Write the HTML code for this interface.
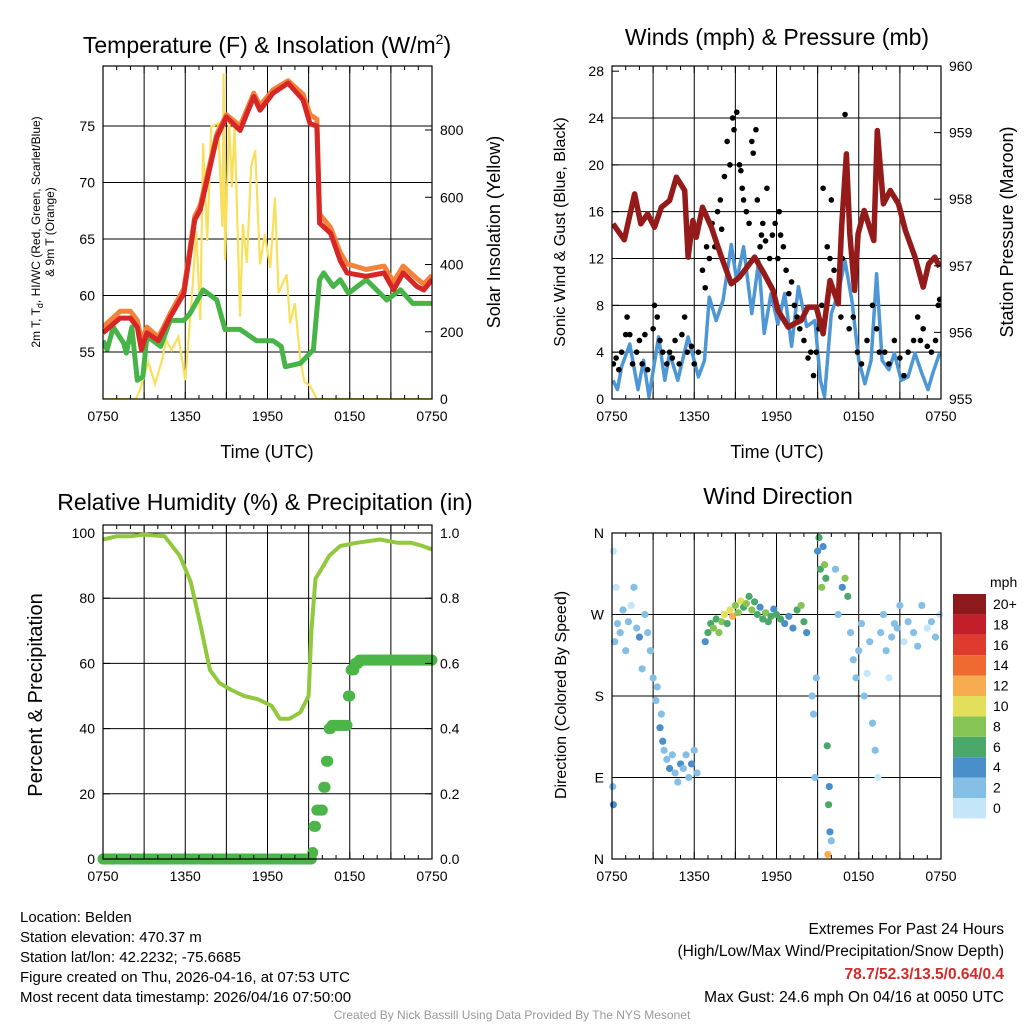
<!DOCTYPE html>
<html><head><meta charset="utf-8"><style>
body{margin:0;background:#fff;font-family:"Liberation Sans",sans-serif}
svg text{font-family:"Liberation Sans",sans-serif;fill:#000}
</style></head><body>
<svg id="s" width="1024" height="1024" xmlns="http://www.w3.org/2000/svg"></svg>
<script>
// ---- data (hours since 0750 UTC) ----
const timeTickLabels=["0750","1350","1950","0150","0750"];
const tempH=[0,1.24,2,2.5,2.8,3.2,4.04,4.9,5.9,6.7,7.1,8.3,9.0,10,11,11.45,12.4,13.5,14.6,15.1,15.6,15.8,16.6,17.3,17.8,19.2,20.5,21.2,21.9,22.9,23.4,24];
const tempRed=[56.7,58,58,57.2,55.2,56.7,56,58.1,60.2,66.7,67.6,74,75.8,74.6,77.6,76.4,77.9,78.8,77.3,75.2,75,66.4,65.5,63.1,62,61.7,62,60.5,62,60.8,60.5,61.4];
const tempOrange=[57.2,58.6,58.6,57.8,56,57.2,56.3,58.4,60.6,67,68,74.3,76,75,77.9,76.8,78.2,79,77.8,76,75.6,67.2,66,63.8,62.8,62.3,62.6,61.2,62.6,61.5,61,61.8];
const dewH=[0,0.3,0.75,1.5,1.7,2.1,2.5,2.9,3.2,4.2,4.9,5.9,6.35,7.3,8.3,8.9,10,11.2,12.4,13,13.3,14.4,15.35,15.8,16.1,16.8,17.3,17.9,19.2,20.7,21.7,22.6,24];
const dewGreen=[56,55.2,57.2,55.8,54.9,57.2,52.5,52.8,56.4,55.5,57.8,57.8,58.4,60.5,59.6,57,57,56,56,55.5,53.7,54,55.2,61.4,62,60.8,61.4,60.2,61.4,59.6,60.5,59.3,59.3];
const insH=[0,2.4,2.7,3.3,3.8,4.3,4.6,5,5.5,6,6.5,6.8,7.1,7.3,7.6,7.9,8.4,8.7,8.8,8.9,9.2,9.4,9.6,10,10.2,10.5,10.8,11.1,11.45,11.8,12.2,12.55,12.8,13.4,13.65,14,14.4,14.7,15.1,15.6,24];
const insVal=[0,0,27,110,45,115,175,145,185,56,314,500,235,760,470,810,820,512,968,413,830,630,810,245,520,405,690,740,400,490,390,600,315,370,225,285,115,50,40,0,0];
const windH=[0.07,0.4,0.7,1.3,1.9,2.3,2.7,3.4,3.85,4.2,4.8,5.55,6.3,6.75,7.1,7.6,8.1,8.7,9.1,9.6,10.2,10.7,11.1,11.6,12.1,12.6,13.1,13.6,14.2,14.8,15.2,15.5,16,16.5,17,17.5,18,18.45,18.9,19.3,19.7,20.2,20.6,21.1,21.6,22.1,22.6,23.05,23.4,23.9];
const windVal=[1.6,0.8,2.75,4.7,0.8,3.3,0.2,5.3,1.6,3.9,1.6,5.3,1.9,3.3,8.7,6.7,8.4,13.2,10.1,13,7.3,11.8,5.6,9,6.4,9,4.5,9.6,6.2,6.7,1.6,0.2,7.3,9,11.8,8.4,3.3,1.3,3.3,10.7,3.3,2.5,3.9,1.6,1.9,3.9,2.2,0.8,2.2,3.9];
const gustPts=[[0.1,3],[0.3,3.5],[0.5,2.5],[0.7,4],[1,5.5],[1.1,7],[1.3,5.5],[1.5,3],[1.8,4],[2,5],[2.2,3],[2.4,5.5],[2.6,2.5],[3,6],[3.1,8],[3.3,7],[3.5,5],[3.7,4],[4,3],[4.2,4],[4.4,3.5],[4.6,5],[4.9,3],[5.1,5.5],[5.3,7],[5.5,4],[5.8,4.5],[6,3],[6.3,4],[6.6,11],[6.8,9.5],[6.9,13],[7.1,12],[7.3,15],[7.5,13],[7.7,16],[7.9,17],[8,14.5],[8.2,19],[8.4,22],[8.6,20],[8.8,24],[8.9,23],[9.1,24.5],[9.3,20],[9.4,19.5],[9.6,17],[9.8,16],[10,15],[10.2,22],[10.3,21],[10.5,23],[10.6,17],[10.8,13],[11,15],[11.2,13.5],[11.3,18],[11.5,12],[11.7,14],[11.9,15],[12.1,12],[12.3,14],[12.5,13],[12.7,11],[12.9,9],[13.1,10],[13.3,8],[13.5,7],[13.7,6],[14,5],[14.3,3.5],[14.5,4],[14.7,2],[14.9,4],[15.1,6],[15.3,8],[15.4,18],[15.7,13],[15.9,12],[16,17],[16.2,11],[16.5,9],[16.7,7],[16.8,12],[17,24.3],[17.3,6],[17.6,7],[17.9,4],[18.2,3],[18.6,5],[19,8],[19.3,6],[19.5,4],[19.9,4],[20.2,3],[20.6,5],[21,3.5],[21.3,2],[21.6,4],[22,5],[22.3,7],[22.5,5],[22.7,6],[23,4.5],[23.3,4],[23.6,5],[23.8,8],[23.9,8.5],[9.5,18],[10.9,14],[12.2,16]];
const presH=[0.07,0.9,1.65,2.1,2.6,3.1,3.6,4.2,4.7,5.3,5.55,5.9,6.15,6.6,7.25,7.9,8.7,9.3,10.4,11.1,11.75,12.1,12.85,13.3,13.8,14.3,14.9,15.4,15.9,16.5,16.75,17.1,17.35,17.7,17.95,18.4,19.1,19.35,19.8,20.3,20.9,21.4,22.1,22.7,23.1,23.55,23.9];
const presVal=[957.63,957.39,958.08,957.63,957.78,957.58,957.88,957.98,958.33,958.13,957.13,957.68,957.43,957.88,957.58,957.18,956.73,956.83,957.13,956.88,956.63,956.33,956.08,956.13,956.18,956.38,956.38,955.98,956.78,956.43,957.58,958.68,957.48,956.63,957.48,957.83,957.38,959.03,957.93,958.13,957.93,957.53,957.13,956.68,957.03,957.13,956.98];
const rhH=[0,1,2,3,4.5,5.6,6.4,7.1,7.8,8.5,9.3,10.3,11.3,12.3,12.9,13.6,14.4,15,15.2,15.5,15.8,16.5,17.3,18.5,20.2,21.5,22.5,23.3,24];
const rhVal=[98,99,99,99.5,99,93,85,72,58,54,52,50,49,47,43,43,45,50,70,86,88,93,96,97,98,97,97,96,95];
const precipH=[0,15.2,15.35,15.5,16.0,16.2,16.4,16.6,17.8,18.0,18.3,18.6,24];
const precipVal=[0,0.02,0.1,0.15,0.22,0.3,0.4,0.41,0.5,0.58,0.6,0.61,0.61];
const dirPts=[[0.1,340,1],[0.2,240,2],[0.3,300,1],[0.4,260,3],[0.6,250,2],[0.8,275,2],[1,230,3],[1.2,262,2],[1.4,280,1],[1.6,300,2],[1.8,255,3],[2,245,4],[2.2,210,3],[2.4,270,2],[2.6,250,3],[2.8,230,2],[3,200,3],[3.2,175,2],[3.3,190,3],[3.5,145,4],[3.6,160,3],[3.7,130,4],[3.8,120,3],[4,110,2],[4.2,100,4],[4.4,115,3],[4.6,95,2],[4.8,85,3],[5,105,4],[5.2,100,3],[5.4,115,2],[5.6,90,3],[5.8,105,4],[6,120,3],[6.2,95,2],[0.05,80,3],[0.1,60,4],[6.8,240,5],[7,250,6],[7.2,260,7],[7.4,255,8],[7.6,265,6],[7.8,250,8],[8,262,9],[8.2,270,10],[8.4,260,7],[8.6,275,11],[8.8,268,12],[9,280,9],[9.2,272,8],[9.4,285,10],[9.6,278,7],[9.8,282,9],[10,290,7],[10.2,275,8],[10.4,284,6],[10.6,270,7],[10.8,278,5],[11,265,6],[11.2,272,8],[11.4,262,7],[11.6,268,6],[11.8,276,5],[12,270,7],[12.3,265,6],[12.6,260,5],[12.9,268,4],[13.2,255,5],[13.5,275,6],[13.8,280,8],[14,262,7],[14.2,250,5],[14.6,180,3],[14.7,160,2],[14.8,90,3],[14.9,200,2],[15,340,5],[15.1,355,6],[15.2,320,7],[15.3,300,8],[15.4,345,5],[15.5,325,9],[15.6,310,7],[15.7,125,6],[15.8,60,7],[15.9,30,5],[15.75,5,12],[15.85,80,4],[16,20,3],[16.3,320,3],[16.5,270,2],[16.8,300,4],[17,310,8],[17.2,290,6],[17.4,250,3],[17.6,220,2],[17.8,200,3],[18,230,2],[18.2,260,3],[18.4,180,2],[18.6,205,1],[18.8,240,2],[19,150,3],[19.2,120,2],[19.4,90,1],[19.6,250,3],[19.8,270,2],[20,230,2],[20.2,200,1],[20.4,245,3],[20.6,260,2],[20.8,255,3],[21,280,2],[21.3,240,1],[21.6,262,3],[22,250,2],[22.3,235,3],[22.6,280,2],[23,255,1],[23.3,262,3],[23.6,245,2],[23.9,270,1]];
const speedBinLabels=["0","2","4","6","8","10","12","14","16","18","20+"];
const speedColors=["#c4e6f8","#86bfe6","#4a8fca","#4aa86a","#86c553","#e3df5a","#f7ad4f","#ee6a30","#df3a2e","#c21f2a","#8c1a1a"];

const S=document.getElementById('s');const NS="http://www.w3.org/2000/svg";
function el(tag,attrs,parent,txt){const e=document.createElementNS(NS,tag);for(const k in attrs)e.setAttribute(k,attrs[k]);if(txt!==undefined)e.textContent=txt;(parent||S).appendChild(e);return e;}
function lin(d0,d1,r0,r1){return v=>r0+(v-d0)*(r1-r0)/(d1-d0);}
function path(xs,ys,sx,sy){return xs.map((h,i)=>(i?'L':'M')+sx(h).toFixed(1)+','+sy(ys[i]).toFixed(1)).join('');}

function frame(g,x0,y0,x1,y1,hGrid,ly){
  const sx=lin(0,24,x0,x1);
  for(let i=1;i<8;i++){const l=el('line',{x1:sx(i*3),x2:sx(i*3),y1:y0,y2:y1,stroke:'#000','stroke-width':1},g);}
  hGrid.forEach(v=>{const y=ly(v);const l=el('line',{x1:x0,x2:x1,y1:y,y2:y,stroke:'#000','stroke-width':1},g);});
}
function axes(g,x0,y0,x1,y1,leftTicks,ly,leftFmt,rightTicks,ry,rightFmt){
  const sx=lin(0,24,x0,x1);
  const r=el('rect',{x:x0,y:y0,width:x1-x0,height:y1-y0,fill:'none',stroke:'#000','stroke-width':1.2},g);
  const xa=el('g',{},g);
  for(let i=0;i<=24;i++){const x=sx(i);const L=i%3==0?7:4;el('line',{x1:x,x2:x,y1:y1,y2:y1-L,stroke:'#000'},xa);el('line',{x1:x,x2:x,y1:y0,y2:y0+L,stroke:'#000'},xa);}
  timeTickLabels.forEach((t,i)=>{const tx=el('text',{x:sx(i*6),y:y1+22,'text-anchor':'middle','font-size':14},xa,t);});
  const la=el('g',{},g);
  leftTicks.forEach(v=>{const y=ly(v);el('line',{x1:x0,x2:x0+7,y1:y,y2:y,stroke:'#000'},la);const t=el('text',{x:x0-8,y:y+5,'text-anchor':'end','font-size':14},la,leftFmt(v));});
  const ra=el('g',{},g);
  rightTicks.forEach(v=>{const y=ry(v);el('line',{x1:x1,x2:x1-7,y1:y,y2:y,stroke:'#000'},ra);if(rightFmt){const t=el('text',{x:x1+8,y:y+5,'font-size':14},ra,rightFmt(v));}});
}
function title(g,x,y,txt,name){const t=el('text',{x:x,y:y,'text-anchor':'middle','font-size':23},g,txt);return t;}
function vlabel(g,x,y,txt,size,name){const t=el('text',{x:0,y:0,'text-anchor':'middle','font-size':size,transform:`translate(${x},${y}) rotate(-90)`},g,txt);return t;}
function clip(id,x0,y0,x1,y1){const cp=el('clipPath',{id:id});el('rect',{x:x0,y:y0,width:x1-x0,height:y1-y0},cp);}

// ---- Panel 1 ----
(function(){
const g=el('g',{});
const X0=103,Y0=66,X1=432,Y1=399;const sx=lin(0,24,X0,X1);
const ly=lin(55,75,352,126);const ry=lin(0,800,399,130);
frame(g,X0,Y0,X1,Y1,[55,60,65,70,75],ly);
clip('c1',X0,Y0,X1,Y1);
const c=el('g',{'clip-path':'url(#c1)'},g);
let p=el('path',{d:path(insH,insVal,sx,ry),fill:'none',stroke:'#f8e05c','stroke-width':2.2},c);
p=el('path',{d:path(dewH,dewGreen,sx,ly),fill:'none',stroke:'#47b447','stroke-width':5,'stroke-linejoin':'round'},c);
p=el('path',{d:path(tempH,tempOrange,sx,ly),fill:'none',stroke:'#f5823a','stroke-width':5,'stroke-linejoin':'round'},c);
p=el('path',{d:path(tempH,tempRed,sx,ly),fill:'none',stroke:'#d62626','stroke-width':5,'stroke-linejoin':'round'},c);
axes(g,X0,Y0,X1,Y1,[55,60,65,70,75],ly,v=>v,[0,200,400,600,800],ry,v=>v);
const t=title(g,267,53,'','temperature-title');t.innerHTML='Temperature (F) &amp; Insolation (W/m<tspan font-size="14" dy="-9">2</tspan><tspan dy="9">)</tspan>';
let xl=el('text',{x:267,y:458,'text-anchor':'middle','font-size':18},g,'Time (UTC)');
const l1=vlabel(g,40,232,'',12,'left-axis-title');l1.innerHTML='2m T, T<tspan font-size="9" dy="3">d</tspan><tspan dy="-3">, HI/WC (Red, Green, Scarlet/Blue)</tspan>';
vlabel(g,54,232,'& 9m T (Orange)',12,'left-axis-title-line2');
vlabel(g,500,232,'Solar Insolation (Yellow)',18,'right-axis-title');
})();

// ---- Panel 2 ----
(function(){
const g=el('g',{});
const X0=612,Y0=66,X1=941,Y1=399;const sx=lin(0,24,X0,X1);
const ly=lin(0,24,399,118);const ry=lin(955,960,399,66);
frame(g,X0,Y0,X1,Y1,[4,8,12,16,20,24],ly);
clip('c2',X0,Y0,X1,Y1);
const c=el('g',{'clip-path':'url(#c2)'},g);
let p=el('path',{d:path(windH,windVal,sx,ly),fill:'none',stroke:'#4d97d6','stroke-width':3.5,'stroke-linejoin':'round'},c);
gustPts.forEach(d=>{const ci=el('circle',{cx:sx(d[0]),cy:ly(d[1]),r:2.8,fill:'#000'},c);});
p=el('path',{d:path(presH,presVal,sx,ry),fill:'none',stroke:'#951a1a','stroke-width':5.5,'stroke-linejoin':'round'},c);
axes(g,X0,Y0,X1,Y1,[0,4,8,12,16,20,24,28],ly,v=>v,[955,956,957,958,959,960],ry,v=>v);
title(g,777,45,'Winds (mph) & Pressure (mb)','winds-title');
let xl=el('text',{x:777,y:458,'text-anchor':'middle','font-size':18},g,'Time (UTC)');
vlabel(g,565,232,'Sonic Wind & Gust (Blue, Black)',16,'left-axis-title');
vlabel(g,1013,232,'Station Pressure (Maroon)',18,'right-axis-title');
})();

// ---- Panel 3 ----
(function(){
const g=el('g',{});
const X0=103,Y0=525,X1=432,Y1=859;const sx=lin(0,24,X0,X1);
const ly=lin(0,100,859,533);const ry=lin(0,1,859,533);
frame(g,X0,Y0,X1,Y1,[20,40,60,80,100],ly);
let p=el('path',{d:path(rhH,rhVal,sx,ly),fill:'none',stroke:'#92c83e','stroke-width':4,'stroke-linejoin':'round'},g);
for(let h=0;h<=24.001;h+=0.1){let v=0;for(let i=0;i<precipH.length;i++)if(precipH[i]<=h)v=precipVal[i];const ci=el('circle',{cx:sx(h),cy:ry(v),r:5.5,fill:'#4cb548'},g);}
axes(g,X0,Y0,X1,Y1,[0,20,40,60,80,100],ly,v=>v,[0,0.2,0.4,0.6,0.8,1],ry,v=>v.toFixed(1));
title(g,265,510,'Relative Humidity (%) & Precipitation (in)','humidity-title');
vlabel(g,42,695,'Percent & Precipitation',20,'left-axis-title');
})();

// ---- Panel 4 ----
(function(){
const g=el('g',{});
const X0=612,Y0=533,X1=941,Y1=859;const sx=lin(0,24,X0,X1);
const ly=lin(0,360,859,533);
frame(g,X0,Y0,X1,Y1,[90,180,270],ly);
dirPts.forEach(d=>{const b=Math.min(10,Math.floor(d[2]/2));const ci=el('circle',{cx:sx(d[0]),cy:ly(d[1]),r:3.6,fill:speedColors[b]},g);});
axes(g,X0,Y0,X1,Y1,[0,90,180,270,360],ly,v=>["N","E","S","W","N"][v/90],[0,90,180,270,360],ly,null);
title(g,778,504,'Wind Direction','wind-direction-title');
vlabel(g,566,695,'Direction (Colored By Speed)',16,'left-axis-title');
const cb=el('g',{});
let ct=el('text',{x:990,y:587,'font-size':14},cb,'mph');
speedBinLabels.forEach((l,i)=>{const y=798-i*20.4;el('rect',{x:953,y:y,width:33,height:20.4,fill:speedColors[i]},cb);const t=el('text',{x:993,y:y+15,'font-size':14},cb,l);});
})();

// ---- footer ----
const info=["Location: Belden","Station elevation: 470.37 m","Station lat/lon: 42.2232; -75.6685","Figure created on Thu, 2026-04-16, at 07:53 UTC","Most recent data timestamp: 2026/04/16 07:50:00"];
info.forEach((s,i)=>{const t=el('text',{x:20,y:922+i*20,'font-size':15},S,s);});
[["Extremes For Past 24 Hours",934,'#000','normal'],["(High/Low/Max Wind/Precipitation/Snow Depth)",956,'#000','normal'],["78.7/52.3/13.5/0.64/0.4",979,'#d42a2a','bold'],["Max Gust: 24.6 mph On 04/16 at 0050 UTC",1002,'#000','normal']].forEach(a=>{const t=el('text',{x:1004,y:a[1],'font-size':15.5,'text-anchor':'end',style:`fill:${a[2]};font-weight:${a[3]}`},S,a[0]);});
const cr=el('text',{x:512,y:1019,'font-size':12,'text-anchor':'middle',style:'fill:#999'},S,'Created By Nick Bassill Using Data Provided By The NYS Mesonet');
</script>
</body></html>
